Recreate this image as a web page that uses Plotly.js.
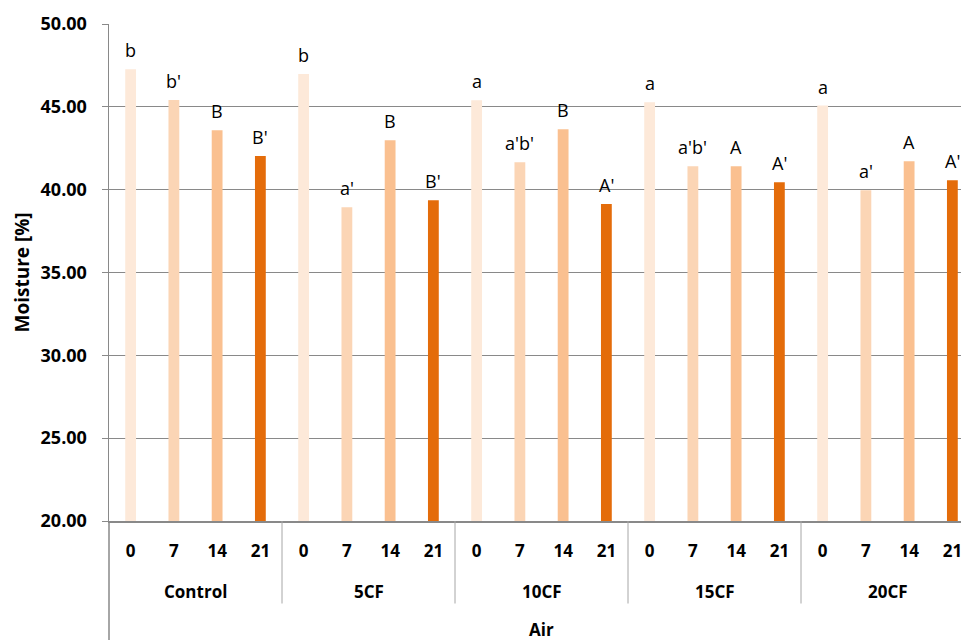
<!DOCTYPE html>
<html>
<head>
<meta charset="utf-8">
<script src="https://cdn.plot.ly/plotly-3.0.1.min.js"></script>
<style>
html,body{margin:0;padding:0;overflow:hidden;background:#fff;}
#chart{width:980px;height:640px;}
</style>
</head>
<body>
<div id="chart"></div>
<script>
// ---- data ----
const groups = ['Control', '5CF', '10CF', '15CF', '20CF'];
const days = ['0', '7', '14', '21'];
const outerLabel = 'Air';
const yTitle = 'Moisture [%]';
const yTickVals = [20, 25, 30, 35, 40, 45, 50];

const day0  = [47.27, 46.98, 45.40, 45.27, 45.08];
const day7  = [45.42, 38.94, 41.65, 41.41, 39.96];
const day14 = [43.59, 42.98, 43.65, 41.41, 41.71];
const day21 = [42.03, 39.36, 39.14, 40.45, 40.57];

const let0  = ['b', 'b', 'a', 'a', 'a'];
const let7  = ["b'", "a'", "a'b'", "a'b'", "a'"];
const let14 = ['B', 'B', 'B', 'A', 'A'];
const let21 = ["B'", "B'", "A'", "A'", "A'"];

const colors = ['#FDE9D9', '#FBD5B5', '#FAC090', '#E46C0A'];

// ---- build ----
const series = [day0, day7, day14, day21];
const letters = [let0, let7, let14, let21];
const nD = days.length;
const FONT = '"Open Sans", "DejaVu Sans", sans-serif';

const traces = series.map((vals, di) => ({
  type: 'bar',
  x: groups.map((g, gi) => gi * nD + di),
  y: vals,
  width: 0.25,
  marker: {color: colors[di], line: {width: 0}},
  name: days[di],
  hoverinfo: 'y'
}));

const annotations = [];
series.forEach((vals, di) => {
  vals.forEach((v, gi) => {
    annotations.push({
      x: gi * nD + di, y: v, xref: 'x', yref: 'y',
      text: letters[di][gi], showarrow: false,
      yanchor: 'bottom', yshift: 5,
      font: {family: FONT, size: 18, color: '#000'}
    });
  });
});
// group labels
groups.forEach((g, gi) => {
  annotations.push({
    x: gi * nD + (nD - 1) / 2, xref: 'x',
    y: -0.142, yref: 'paper', yanchor: 'middle',
    text: '<b>' + g + '</b>', showarrow: false,
    font: {family: FONT, size: 17, color: '#000'}
  });
});
annotations.push({
  x: 0.5, xref: 'paper', y: -0.218, yref: 'paper', yanchor: 'middle',
  text: '<b>' + outerLabel + '</b>', showarrow: false,
  font: {family: FONT, size: 17, color: '#000'}
});
annotations.push({
  x: -0.1006, xref: 'paper', y: 0.5, yref: 'paper', xanchor: 'center', yanchor: 'middle',
  text: '<b>' + yTitle + '</b>', showarrow: false, textangle: -90,
  font: {family: FONT, size: 19, color: '#000'}
});

const shapes = [];
// left axis extension
shapes.push({type: 'line', xref: 'paper', yref: 'paper', x0: 0, x1: 0, y0: 0, y1: -0.25,
  line: {color: '#898989', width: 1.5}});
for (let gi = 1; gi <= groups.length; gi++) {
  shapes.push({type: 'line', xref: 'x', yref: 'paper', x0: gi * nD - 0.5, x1: gi * nD - 0.5,
    y0: 0, y1: -0.166, line: {color: '#A6A6A6', width: 1}});
}

const tickvals = [], ticktext = [];
groups.forEach((g, gi) => days.forEach((d, di) => { tickvals.push(gi * nD + di); ticktext.push('<b>' + d + '</b>'); }));

const layout = {
  width: 980, height: 640,
  margin: {l: 109, r: 6, t: 24, b: 119, pad: 0},
  paper_bgcolor: '#fff', plot_bgcolor: '#fff',
  barmode: 'overlay',
  showlegend: false,
  font: {family: FONT, color: '#000'},
  xaxis: {
    range: [-0.5, groups.length * nD - 0.5],
    tickvals: tickvals, ticktext: ticktext,
    tickfont: {family: FONT, size: 17, color: '#000'},
    ticks: '', showgrid: false, zeroline: false,
    showline: true, linecolor: '#898989', linewidth: 2,
    ticklabelstandoff: 14,
    fixedrange: true
  },
  yaxis: {
    range: [20, 50],
    tickvals: yTickVals,
    ticktext: yTickVals.map(v => '<b>' + v.toFixed(2) + '</b>'),
    tickfont: {family: FONT, size: 18, color: '#000'},
    ticks: 'outside', ticklen: 6, tickcolor: '#898989', tickwidth: 1,
    showgrid: true, gridcolor: '#898989', gridwidth: 1,
    zeroline: false, showline: true, linecolor: '#898989', linewidth: 1.5,
    ticklabelstandoff: 11,
    fixedrange: true
  },
  annotations: annotations,
  shapes: shapes
};

Plotly.newPlot('chart', traces, layout, {displayModeBar: false, staticPlot: true});
</script>
</body>
</html>
